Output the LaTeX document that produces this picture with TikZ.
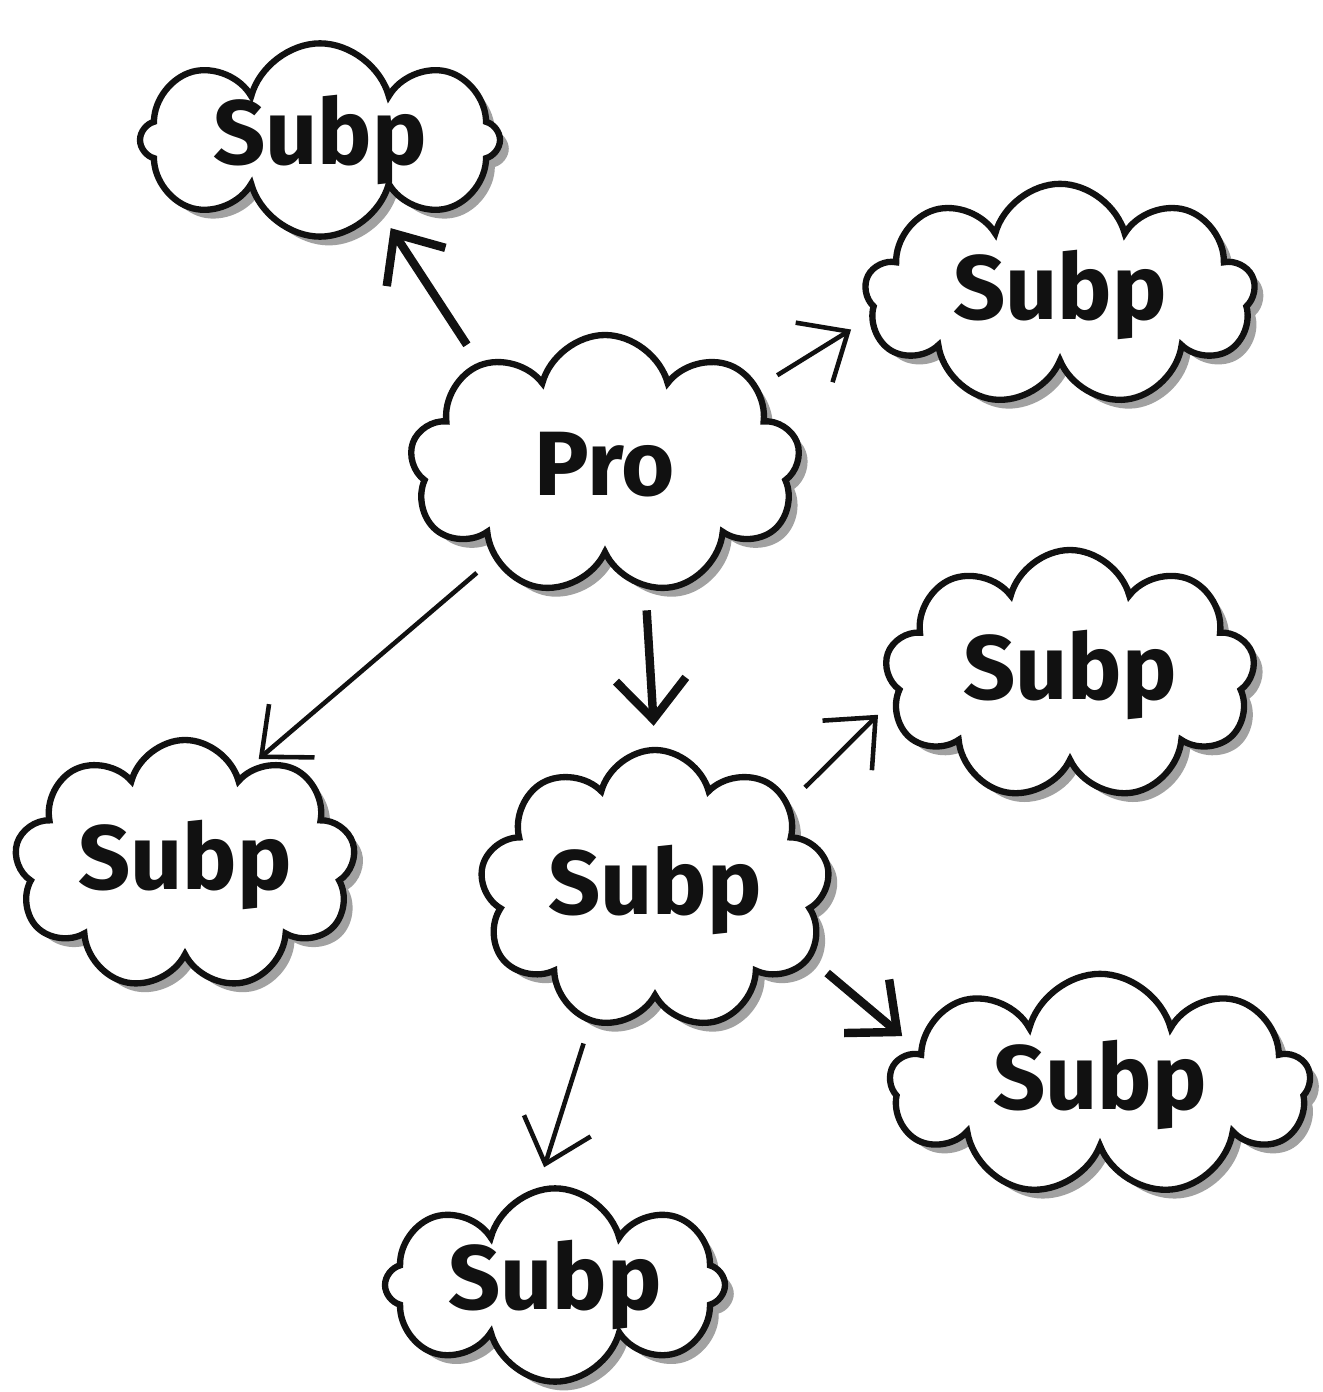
\documentclass[tikz,border=0pt]{standalone}
\usepackage{fontspec}
\setsansfont{Fira Sans}
\usetikzlibrary{arrows.meta, shapes.symbols, shadows}
\definecolor{ink}{HTML}{111111}
\definecolor{smudge}{HTML}{8A8A8A}

\begin{document}
\begin{tikzpicture}[
  >={Straight Barb[length=4mm, width=7mm]},
  puff/.style={cloud, cloud puffs=9, cloud ignores aspect, draw=ink, line width=1.8pt,
               fill=white, drop shadow={shadow xshift=2.5pt, shadow yshift=-2.5pt, fill=smudge, opacity=0.8},
               font=\sffamily\bfseries\fontsize{26}{30}\selectfont, text=ink, inner sep=2pt},
  flat/.style={inner ysep=-2pt, cloud puffs=8},
  link/.style={ink, line width=1.3pt, ->, shorten <=6pt, shorten >=6pt},
  heavy/.style={link, line width=2.4pt},
]

% Background
\fill[white] (0,0) rectangle (13.22,-13.92);
\useasboundingbox (0,0) rectangle (13.22,-13.92);

% Clouds
\node[puff, minimum width=3.9cm, minimum height=2.6cm] (pro) at (6.05,-4.65) {Pro};
\node[puff, flat, minimum width=3.6cm, minimum height=1.4cm] (tl) at (3.2,-1.4) {Subp};
\node[puff, minimum width=3.9cm, minimum height=2.1cm] (tr) at (10.6,-2.95) {Subp};
\node[puff, minimum width=3.7cm, minimum height=2.5cm] (rm) at (10.7,-6.75) {Subp};
\node[puff, minimum width=3.3cm, minimum height=2.5cm] (lf) at (1.85,-8.65) {Subp};
\node[puff, minimum width=3.5cm, minimum height=2.8cm] (ce) at (6.55,-8.9) {Subp};
\node[puff, minimum width=4.2cm, minimum height=2.1cm] (br) at (11.0,-10.85) {Subp};
\node[puff, flat, minimum width=3.4cm, minimum height=1.4cm] (bt) at (5.55,-12.85) {Subp};

% Arrows out of Pro
\draw[heavy] (pro.141) -- (tl.-50);
\draw[link] (pro.27) -- (tr.187);
\draw[link] (pro.220) -- (lf.58);
\draw[heavy] (pro.288) -- (ce.90);

% Arrows out of the middle Subp
\draw[link] (ce.33) -- (rm.188);
\draw[heavy] (ce.-24) -- (br.169);
\draw[link] (ce.244) -- (bt.100);

\end{tikzpicture}
\end{document}
